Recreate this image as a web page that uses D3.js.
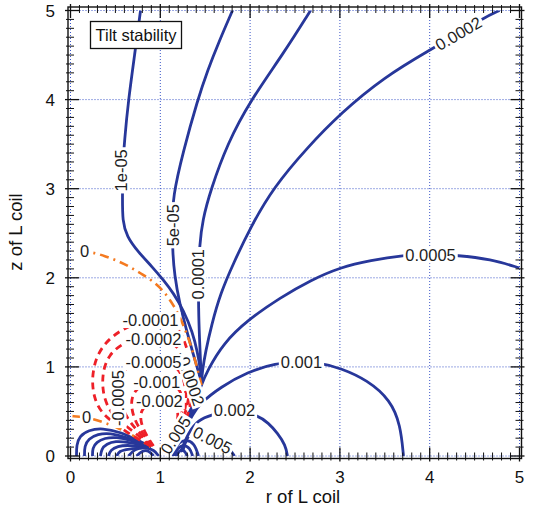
<!DOCTYPE html>
<html>
<head>
<meta charset="utf-8">
<script src="https://cdn.jsdelivr.net/npm/d3@7"></script>
<style>
  html, body { margin: 0; padding: 0; background: #fff; }
  svg { display: block; font-family: "Liberation Sans", Arial, sans-serif; }
</style>
</head>
<body>
<svg id="chart" width="544" height="511"></svg>
<script>
// ---- axis ticks ----
const xTickValues = [0, 1, 2, 3, 4, 5];
const yTickValues = [0, 1, 2, 3, 4, 5];
const minorStep = 0.1;

// ---- contour lines, points as [r, z] ----
const line1e05 = [[0.78,5.0],[0.713,4.495],[0.646,4.002],[0.601,3.543],[0.579,3.206],[0.579,2.87],[0.579,2.646],[0.624,2.466],[0.757,2.287],[0.913,2.119],[1.036,1.973],[1.147,1.827],[1.258,1.637],[1.359,1.39],[1.414,1.166],[1.448,0.964],[1.459,0.83],[1.403,0.65],[1.292,0.426],[1.169,0.202],[1.08,0.045]];
const line5e05 = [[1.804,5.0],[1.659,4.664],[1.526,4.327],[1.414,3.991],[1.258,3.43],[1.136,2.904],[1.136,2.59],[1.136,2.309],[1.158,2.029],[1.214,1.715],[1.292,1.413],[1.37,1.132],[1.425,0.942],[1.459,0.83],[1.414,0.65],[1.303,0.426],[1.18,0.202],[1.091,0.045]];
const line1e04 = [[2.673,5.0],[2.372,4.518],[2.004,3.991],[1.748,3.509],[1.559,2.982],[1.47,2.646],[1.437,2.365],[1.425,2.029],[1.425,1.659],[1.437,1.3],[1.448,1.054],[1.459,0.83],[1.425,0.65],[1.314,0.426],[1.192,0.202],[1.102,0.045]];
const line2e04 = [[4.777,5.0],[4.588,4.91],[4.321,4.742],[4.031,4.574],[3.486,4.249],[3.007,3.845],[2.639,3.464],[2.261,3.016],[2.004,2.567],[1.815,2.164],[1.67,1.827],[1.57,1.469],[1.503,1.166],[1.47,0.964],[1.459,0.83],[1.425,0.639],[1.325,0.426],[1.203,0.202],[1.114,0.045]];
const line5e04 = [[5.0,2.11],[4.677,2.209],[4.31,2.253],[4.009,2.265],[3.708,2.253],[3.341,2.197],[3.007,2.119],[2.673,1.973],[2.339,1.78],[1.971,1.525],[1.704,1.267],[1.526,0.964],[1.448,0.774],[1.403,0.628],[1.325,0.426],[1.214,0.202],[1.125,0.045]];
const line1e03 = [[3.708,0],[3.675,0.348],[3.563,0.628],[3.307,0.852],[3.007,0.987],[2.784,1.043],[2.561,1.054],[2.283,1.043],[1.971,0.942],[1.67,0.774],[1.448,0.594],[1.37,0.482],[1.247,0.258],[1.147,0.045]];
const line2e03 = [[2.416,0],[2.394,0.123],[2.305,0.258],[2.205,0.37],[2.082,0.46],[1.826,0.527],[1.559,0.46],[1.425,0.404],[1.314,0.269],[1.225,0.045]];
const line5e03 = [[1.247,0.045],[1.292,0.202],[1.381,0.314],[1.503,0.291],[1.648,0.202],[1.759,0.101],[1.826,0]];

// steep levels packed around the coil
const arcsRight = [
  [[1.136,0],[1.17,0.12],[1.27,0.19],[1.38,0.15],[1.425,0]],
  [[1.158,0],[1.19,0.09],[1.26,0.13],[1.33,0.09],[1.36,0]],
  [[1.18,0],[1.21,0.06],[1.26,0.08],[1.3,0]]
];
const arcsLeft = [
  [[0.067,0],[0.067,0.123],[0.1,0.224],[0.2,0.291],[0.356,0.314],[0.557,0.269],[0.746,0.179],[0.891,0.101]],
  [[0.156,0],[0.156,0.112],[0.2,0.191],[0.301,0.247],[0.445,0.258],[0.612,0.213],[0.78,0.146],[0.891,0.101]],
  [[0.245,0],[0.245,0.09],[0.29,0.157],[0.379,0.202],[0.512,0.213],[0.668,0.179],[0.891,0.101]],
  [[0.334,0],[0.345,0.078],[0.401,0.135],[0.501,0.168],[0.635,0.157],[0.891,0.101]],
  [[0.423,0],[0.445,0.067],[0.523,0.112],[0.646,0.123],[0.891,0.101]],
  [[0.512,0],[0.546,0.056],[0.624,0.078],[0.891,0.101]],
  [[0.646,0],[0.713,0.078],[0.824,0.101],[0.935,0.067],[0.98,0]],
  [[0.735,0],[0.791,0.056],[0.869,0.067],[0.924,0]]
];

// zero level
const zeroUpper = [[0.1,2.3],[0.245,2.287],[0.39,2.242],[0.535,2.186],[0.668,2.119],[0.802,2.04],[0.947,1.939],[1.058,1.827],[1.147,1.693],[1.225,1.547],[1.292,1.379],[1.347,1.222],[1.392,1.054],[1.437,0.886],[1.459,0.796]];
const zeroLower = [[0.022,0.448],[0.1,0.44],[0.178,0.43],[0.256,0.415],[0.39,0.37],[0.535,0.314],[0.668,0.247],[0.802,0.168],[0.891,0.101]];

// negative levels
const lineM1e04 = [[0.891,0.112],[0.69,0.224],[0.501,0.359],[0.356,0.471],[0.267,0.628],[0.234,0.852],[0.278,1.099],[0.39,1.278],[0.557,1.413],[0.757,1.502],[0.958,1.536],[1.136,1.502],[1.236,1.379],[1.314,1.166],[1.359,0.908],[1.359,0.628],[1.281,0.381],[1.158,0.179],[1.058,0.067]];
const lineM2e04 = [[0.891,0.112],[0.724,0.258],[0.557,0.381],[0.423,0.516],[0.356,0.717],[0.356,0.942],[0.423,1.132],[0.579,1.267],[0.78,1.334],[0.969,1.334],[1.158,1.267],[1.27,1.121],[1.325,0.908],[1.325,0.65],[1.258,0.404],[1.136,0.191],[1.047,0.067]];
const lineM5e04 = [[0.902,0.112],[0.757,0.269],[0.624,0.426],[0.546,0.628],[0.535,0.83],[0.601,0.987],[0.757,1.065],[0.947,1.076],[1.136,1.043],[1.247,0.919],[1.292,0.717],[1.281,0.493],[1.192,0.269],[1.047,0.067]];
const lineM1e03 = [[0.913,0.112],[0.791,0.269],[0.702,0.426],[0.668,0.605],[0.713,0.74],[0.846,0.818],[1.002,0.841],[1.169,0.807],[1.247,0.695],[1.258,0.516],[1.192,0.314],[1.058,0.078]];
const lineM2e03 = [[0.924,0.112],[0.835,0.247],[0.78,0.381],[0.78,0.504],[0.857,0.594],[1.002,0.628],[1.136,0.605],[1.203,0.516],[1.192,0.37],[1.125,0.202],[1.047,0.078]];

// level labels: text, r, z, angle (later entries sit on top)
const labelAnchors = [
  ["-0.0002", 1.335, 0.87, 71],
  ["0.005", 1.169, 0.235, -57],
  ["1e-05", 0.568, 3.206, -90],
  ["5e-05", 1.14, 2.59, -90],
  ["0.0001", 1.425, 2.04, -90],
  ["0.0002", 4.32, 4.742, -30],
  ["0.0005", 4.009, 2.253, 0],
  ["0.001", 2.572, 1.054, 0],
  ["0.002", 1.826, 0.516, 0],
  ["0.005", 1.581, 0.179, 27],
  ["0", 0.156, 2.298, 0],
  ["0", 0.178, 0.437, 0],
  ["-0.0001", 0.891, 1.525, 0],
  ["-0.0002", 0.924, 1.312, 0],
  ["-0.0005", 0.925, 1.054, 0],
  ["-0.001", 0.96, 0.83, 0],
  ["-0.002", 0.99, 0.617, 0],
  ["-0.0005", 0.535, 0.65, -90]
];

// ---- styles ----
const BLUE = "#27379a", RED = "#ee2028", ORANGE = "#f47a20", GRID = "#3a55c8";
const styles = {
  pos:  { stroke: BLUE,   width: 2.8, dash: null },
  neg:  { stroke: RED,    width: 2.8, dash: "7,5" },
  zero: { stroke: ORANGE, width: 2.6, dash: "9,5,2,5" }
};

const contours = [
  ...[line1e05, line5e05, line1e04, line2e04, line5e04, line1e03, line2e03, line5e03].map(p => ({ kind: "pos", pts: p })),
  ...arcsRight.map(p => ({ kind: "pos", pts: p })),
  ...arcsLeft.map(p => ({ kind: "pos", pts: p })),
  ...[zeroUpper, zeroLower].map(p => ({ kind: "zero", pts: p })),
  ...[lineM1e04, lineM2e04, lineM5e04, lineM1e03, lineM2e03].map(p => ({ kind: "neg", pts: p }))
];

// ---- layout ----
const svg = d3.select("#chart");
const x = d3.scaleLinear().domain([0, 5]).range([70.5, 519.5]);
const y = d3.scaleLinear().domain([0, 5]).range([456, 10.5]);
const frame = { left: 68, right: 521.5, top: 7, bottom: 458.5 };

svg.append("defs").append("clipPath").attr("id", "plotClip")
  .append("rect")
  .attr("x", x(0)).attr("y", y(5))
  .attr("width", x(5) - x(0)).attr("height", y(0) - y(5));

// dotted grid
const grid = svg.append("g").attr("stroke", GRID).attr("stroke-width", 1)
  .attr("stroke-dasharray", "1,2").attr("fill", "none");
xTickValues.forEach(v => grid.append("line")
  .attr("x1", x(v)).attr("x2", x(v)).attr("y1", y(0)).attr("y2", y(5)));
yTickValues.forEach(v => grid.append("line")
  .attr("y1", y(v)).attr("y2", y(v)).attr("x1", x(0)).attr("x2", x(5)));

// contour lines
const lineGen = d3.line().x(d => x(d[0])).y(d => y(d[1])).curve(d3.curveBasis);
const lines = svg.append("g").attr("clip-path", "url(#plotClip)").attr("fill", "none")
  .attr("stroke-linecap", "butt").attr("stroke-linejoin", "round");
contours.forEach(c => {
  const s = styles[c.kind];
  const p = lines.append("path").attr("d", lineGen(c.pts))
    .attr("stroke", s.stroke).attr("stroke-width", s.width);
  if (s.dash) p.attr("stroke-dasharray", s.dash);
});

// level labels on white patches
const lab = svg.append("g").attr("font-size", 16.5).attr("fill", "#1e1e1e");
labelAnchors.forEach(([t, r, z, a]) => {
  const g = lab.append("g").attr("transform", `translate(${x(r)},${y(z)}) rotate(${a})`);
  const bg = g.append("rect").attr("fill", "#fff");
  const tx = g.append("text").attr("text-anchor", "middle").attr("dy", "0.36em").text(t);
  const b = tx.node().getBBox();
  bg.attr("x", b.x - 2).attr("y", b.y + 1).attr("width", b.width + 4).attr("height", b.height - 2);
});

// title box
const tb = svg.append("g");
tb.append("rect").attr("x", 90.5).attr("y", 21.5).attr("width", 91).attr("height", 27)
  .attr("fill", "#fff").attr("stroke", "#111").attr("stroke-width", 1.3);
tb.append("text").attr("x", 136).attr("y", 41).attr("text-anchor", "middle")
  .attr("font-size", 16.5).attr("fill", "#111").text("Tilt stability");

// frame and ticks
const axes = svg.append("g").attr("stroke", "#111").attr("fill", "none");
axes.append("rect").attr("x", frame.left).attr("y", frame.top)
  .attr("width", frame.right - frame.left).attr("height", frame.bottom - frame.top)
  .attr("stroke-width", 1.4);
const allTicks = d3.range(0, 5 + 1e-9, minorStep).map(v => +v.toFixed(1));
allTicks.forEach(v => {
  const major = Math.abs(v - Math.round(v)) < 1e-6;
  const inLen = major ? 11 : 6, outLen = major ? 3 : 2, w = major ? 1.3 : 1;
  const px = x(v), py = y(v);
  axes.append("line").attr("x1", px).attr("x2", px).attr("y1", frame.bottom + outLen).attr("y2", frame.bottom - inLen).attr("stroke-width", w);
  axes.append("line").attr("x1", px).attr("x2", px).attr("y1", frame.top - outLen).attr("y2", frame.top + inLen).attr("stroke-width", w);
  axes.append("line").attr("y1", py).attr("y2", py).attr("x1", frame.left - outLen).attr("x2", frame.left + inLen).attr("stroke-width", w);
  axes.append("line").attr("y1", py).attr("y2", py).attr("x1", frame.right + outLen).attr("x2", frame.right - inLen).attr("stroke-width", w);
});

// tick labels
const tl = svg.append("g").attr("font-size", 17).attr("fill", "#111");
xTickValues.forEach(v => tl.append("text").attr("x", x(v)).attr("y", 483)
  .attr("text-anchor", "middle").text(v));
yTickValues.forEach(v => tl.append("text").attr("x", 55).attr("y", y(v) + 6)
  .attr("text-anchor", "end").text(v));

// axis titles
svg.append("text").attr("x", 303).attr("y", 503).attr("text-anchor", "middle")
  .attr("font-size", 18.5).attr("fill", "#111").text("r of L coil");
svg.append("text").attr("transform", "translate(22,232) rotate(-90)").attr("text-anchor", "middle")
  .attr("font-size", 18.5).attr("fill", "#111").text("z of L coil");
</script>
</body>
</html>
